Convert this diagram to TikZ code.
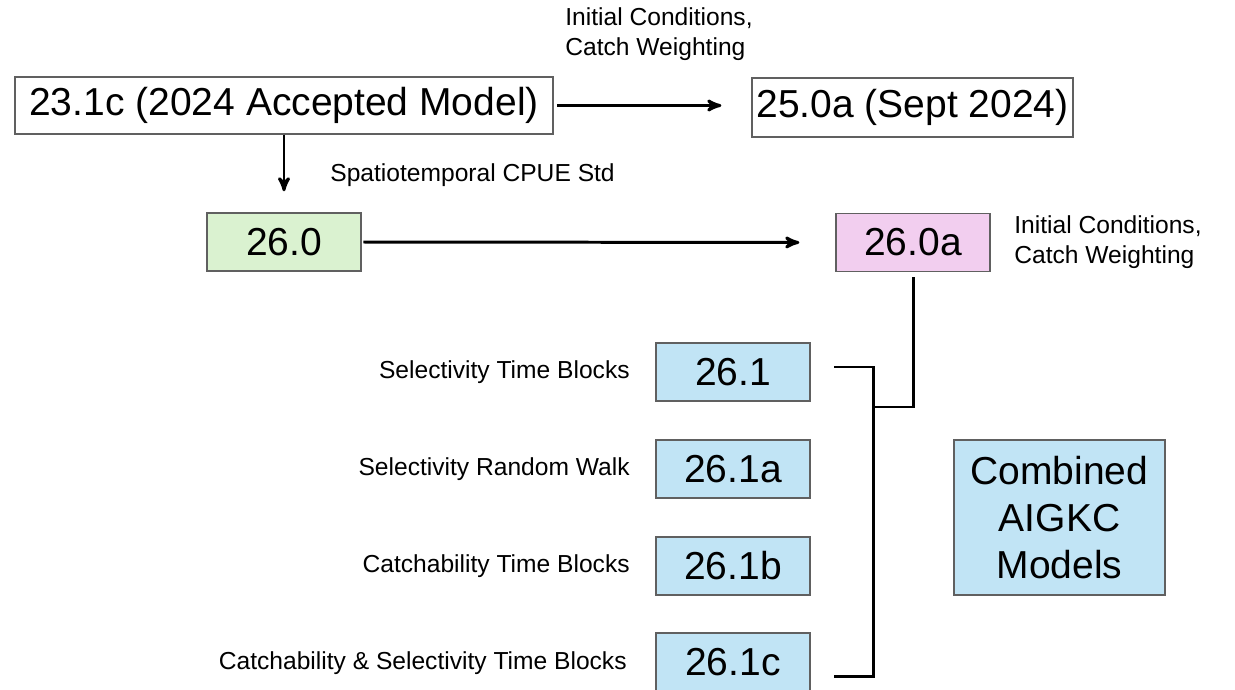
\documentclass[tikz,border=0pt]{standalone}
\usepackage{fontspec}
\setmainfont{Liberation Sans}
\usepackage{xcolor}
\usepackage{tikz}
\usetikzlibrary{arrows}
\definecolor{runGreen}{HTML}{DAF2D0}
\definecolor{runPink}{HTML}{F2CEEF}
\definecolor{runBlue}{HTML}{C1E4F5}
\definecolor{boxLine}{HTML}{606060}
\tikzset{
	model node/.style={rectangle,draw=boxLine,line width=0.8pt,inner sep=0pt,
		font=\fontsize{22.2}{27}\selectfont,align=center},
	run node/.style={model node,minimum width=3.08cm,minimum height=1.16cm},
	note/.style={inner sep=0pt,font=\fontsize{14}{17}\selectfont,align=left},
	link/.style={line width=1.7pt}
}

\begin{document}
\begin{tikzpicture}[->,>=stealth',x=0.02cm,y=-0.02cm]
	\useasboundingbox (0,0) rectangle (1235,690);
	% base models
	\node [model node,minimum width=10.76cm,minimum height=1.14cm] (1) at (284,105.5) {23.1c (2024 Accepted Model)};
	\node [model node,minimum width=6.42cm,minimum height=1.18cm] (2) at (912.5,107.5) {25.0a (Sept 2024)};
	\node [run node,fill=runGreen] (3) at (284,242) {26.0};
	\node [run node,fill=runPink] (4) at (913,242.5) {26.0a};
	% sensitivity runs
	\node [run node,fill=runBlue] (5) at (733,372) {26.1};
	\node [run node,fill=runBlue] (6) at (733,469) {26.1a};
	\node [run node,fill=runBlue] (7) at (733,566) {26.1b};
	\node [run node,fill=runBlue] (8) at (733,662) {26.1c};
	\node [model node,fill=runBlue,minimum width=4.22cm,minimum height=3.1cm] (9) at (1059.5,517.5) {Combined\\AIGKC\\Models};
	% labels
	\node [note,anchor=west] (10) at (565,34) {Initial Conditions,\\Catch Weighting};
	\node [note,anchor=west] (11) at (330,175) {Spatiotemporal CPUE Std};
	\node [note,anchor=west] (12) at (1014,242.5) {Initial Conditions,\\Catch Weighting};
	\node [note,anchor=east] (13) at (630,372) {Selectivity Time Blocks};
	\node [note,anchor=east] (14) at (630,469) {Selectivity Random Walk};
	\node [note,anchor=east] (15) at (630,566) {Catchability Time Blocks};
	\node [note,anchor=east] (16) at (627,663) {Catchability \& Selectivity Time Blocks};
	% connectors
	\draw [link,shorten <=2pt,shorten >=0.6cm] (1.east) -- (1.east -| 2.west);
	\draw [link,shorten >=0.42cm] (1.south) -- (3.north);
	\draw [link,shorten <=1pt,shorten >=0.72cm] (3.east) -- (4.west);
	\coordinate (j) at (873,407);
	\coordinate (b1) at (834,367);
	\coordinate (b2) at (834,676);
	\draw [link,-,shorten <=3pt] (4.south) |- (j);
	\draw [link,-] (b1) -| (j) |- (b2);
\end{tikzpicture}
\end{document}
